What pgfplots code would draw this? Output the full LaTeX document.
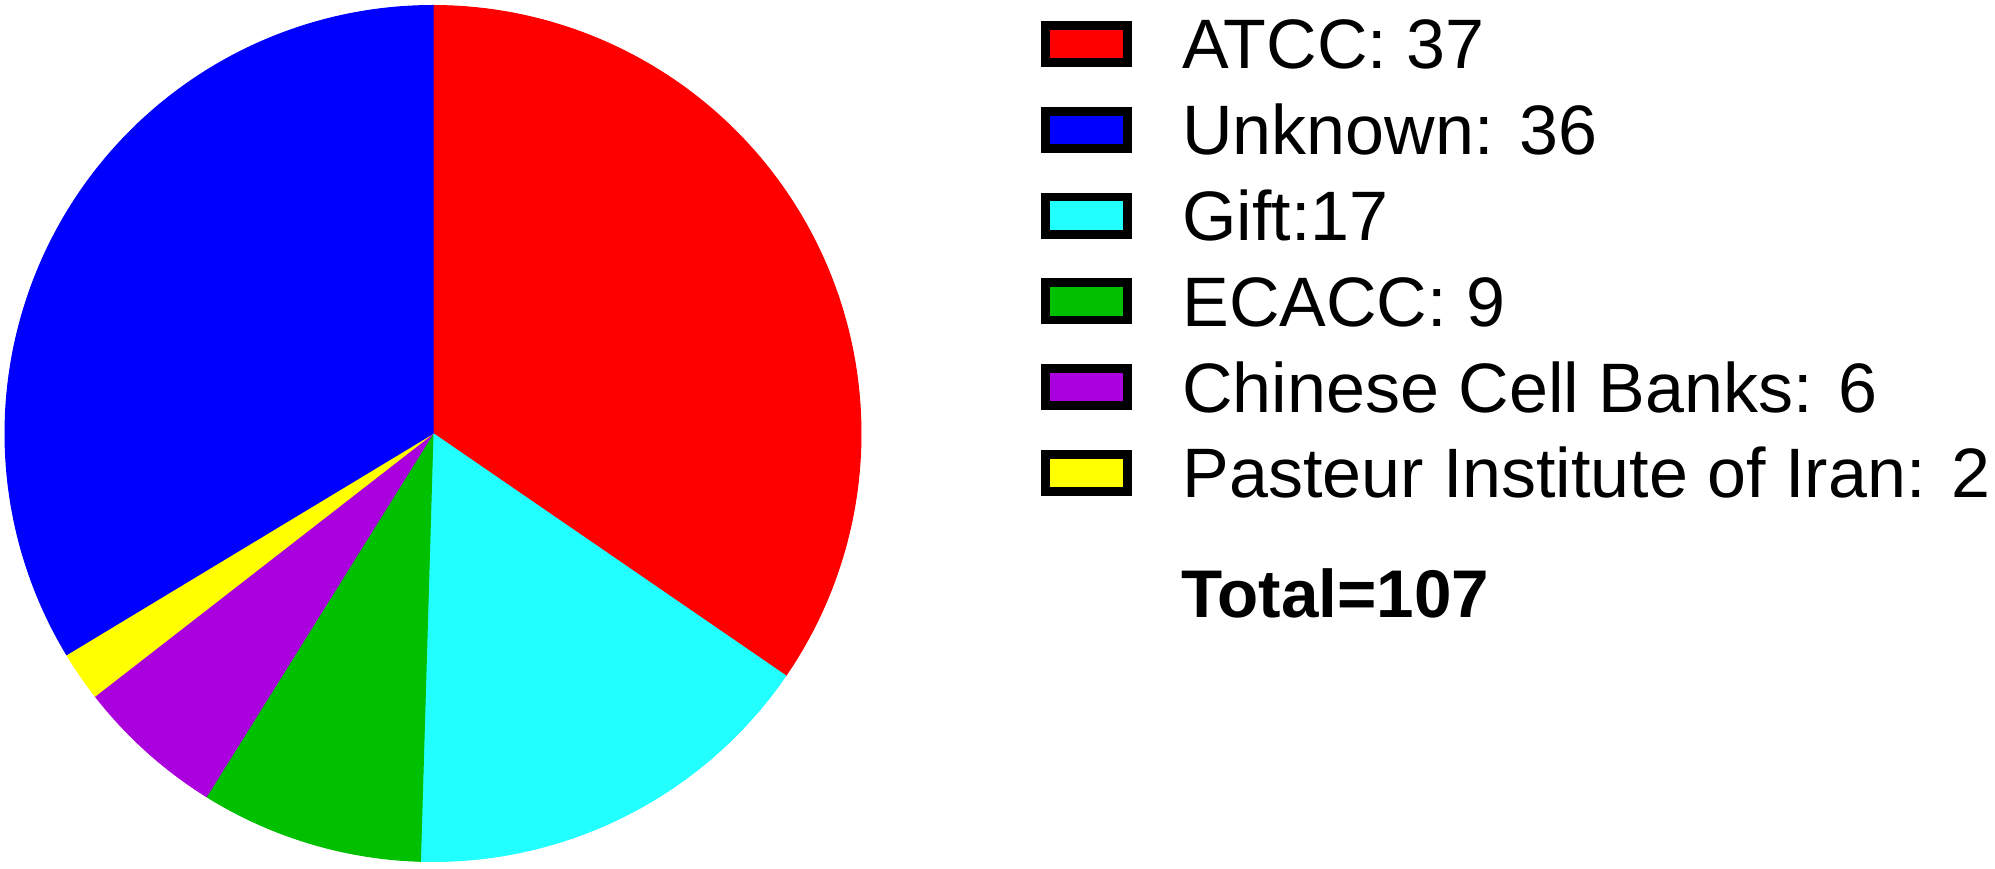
\documentclass[border=0pt]{standalone}
\usepackage{pgfplots}
\pgfplotsset{compat=1.18}
\usepackage{fontspec}
\setmainfont{Liberation Sans}
\definecolor{cRed}{RGB}{255,0,0}
\definecolor{cBlue}{RGB}{0,0,255}
\definecolor{cCyan}{RGB}{34,255,255}
\definecolor{cGreen}{RGB}{0,192,0}
\definecolor{cPurple}{RGB}{170,0,222}
\definecolor{cYellow}{RGB}{255,255,0}
% slice: #1 = count before this slice (clockwise from 12 o'clock), #2 = count, #3 = colour
\newcommand{\slice}[3]{%
  \addplot[fill=#3, draw=#3, line width=0.5bp, domain=90-(#1+#2)*360/107:90-(#1)*360/107,
    samples=150, variable=\t, forget plot]
    ({433+428*cos(\t)}, {435.5+428*sin(\t)}) -- (axis cs:433,435.5) -- cycle;
}
\begin{document}
\begin{tikzpicture}
\begin{axis}[
  scale only axis, width=997.5bp, height=434.5bp,
  xmin=0, xmax=1995, ymin=0, ymax=869,
  hide axis, clip=false,
  legend image code/.code={\draw[#1, draw=black, line width=4.4bp] (2.2bp,-9.3bp) rectangle (43.3bp,9.3bp);},
  legend cell align=left,
  legend style={at={(axis cs:1041,850)}, anchor=north west, draw=none, fill=none,
    inner sep=0pt, outer sep=0pt, column sep=25.2bp, row sep=17.9bp,
    nodes={inner sep=0pt, outer sep=0pt, text height=25bp, text depth=0pt},
    font=\fontsize{35bp}{42bp}\selectfont},
]
\path (axis cs:0,0) rectangle (axis cs:1995,869);
\slice{0}{37}{cRed}
\slice{37}{17}{cCyan}
\slice{54}{9}{cGreen}
\slice{63}{6}{cPurple}
\slice{69}{2}{cYellow}
\slice{71}{36}{cBlue}
\addlegendimage{fill=cRed}\addlegendentry{ATCC: 37}
\addlegendimage{fill=cBlue}\addlegendentry{Unknown: 36}
\addlegendimage{fill=cCyan}\addlegendentry{Gift:17}
\addlegendimage{fill=cGreen}\addlegendentry{ECACC: 9}
\addlegendimage{fill=cPurple}\addlegendentry{Chinese Cell Banks: 6}
\addlegendimage{fill=cYellow}\addlegendentry{Pasteur Institute of Iran: 2}
\node[anchor=base west, inner sep=0pt, font=\fontsize{33.7bp}{40bp}\selectfont\bfseries]
  at (axis cs:1181,251) {Total=107};
\end{axis}
\end{tikzpicture}
\end{document}
